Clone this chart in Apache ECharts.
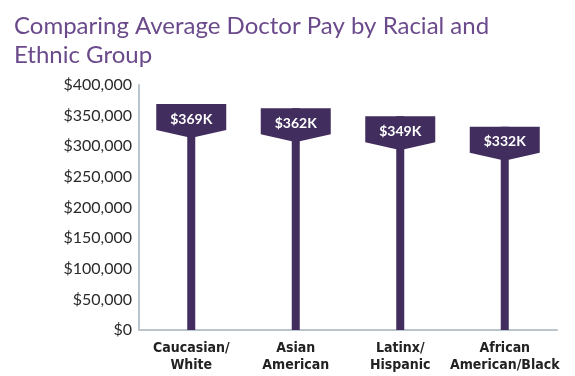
<!DOCTYPE html>
<html>
<head>
<meta charset="utf-8">
<script src="https://cdn.jsdelivr.net/npm/echarts@6/dist/echarts.min.js"></script>
<style>
    html, body { margin: 0; padding: 0; background: #fff; }
    #main { width: 575px; height: 376px; }
</style>
</head>
<body>
<div id="main"></div>
<script>
// data
var groups = ['Caucasian/\nWhite', 'Asian\nAmerican', 'Latinx/\nHispanic', 'African\nAmerican/Black'];
var avgPay = [369000, 362000, 349000, 332000];
var payLabels = ['$369K', '$362K', '$349K', '$332K'];

var barColor = '#412e5e';

var chart = echarts.init(document.getElementById('main'));

var option = {
    animation: false,
    title: {
        text: 'Comparing Average Doctor Pay by Racial and\nEthnic Group',
        left: 9,
        top: 7,
        textStyle: {
            color: '#6b4a8b',
            fontFamily: 'Lato',
            fontWeight: 'normal',
            fontSize: 24,
            lineHeight: 29
        }
    },
    grid: {
        left: 139,
        right: 18,
        top: 85,
        bottom: 46
    },
    xAxis: {
        type: 'category',
        data: groups,
        axisTick: { show: false },
        axisLine: {
            lineStyle: { color: '#b9c4cc', width: 2 }
        },
        axisLabel: {
            interval: 0,
            margin: 10,
            color: '#222',
            fontFamily: "'Liberation Sans Narrow', 'DejaVu Sans Condensed', 'Roboto Condensed', Roboto, sans-serif",
            fontWeight: 'bold',
            fontSize: 14,
            lineHeight: 17
        }
    },
    yAxis: {
        type: 'value',
        min: 0,
        max: 400000,
        interval: 50000,
        splitLine: { show: false },
        axisTick: { show: false },
        axisLine: {
            show: true,
            lineStyle: { color: '#b9c4cc', width: 2 }
        },
        axisLabel: {
            margin: 7,
            color: '#2a2a2a',
            fontFamily: 'Lato',
            fontSize: 16,
            formatter: function (value) {
                return '$' + value.toLocaleString('en-US');
            }
        }
    },
    series: [
        {
            type: 'bar',
            data: avgPay,
            barWidth: 8,
            itemStyle: { color: barColor }
        },
        {
            type: 'custom',
            data: avgPay,
            z: 5,
            renderItem: function (params, api) {
                var p = api.coord([api.value(0), api.value(1)]);
                var x = p[0], y = p[1];
                return {
                    type: 'group',
                    children: [
                        {
                            type: 'polygon',
                            shape: {
                                points: [
                                    [x - 35, y], [x + 35, y], [x + 35, y + 26],
                                    [x + 4, y + 33], [x - 4, y + 33], [x - 35, y + 26]
                                ]
                            },
                            style: { fill: barColor }
                        },
                        {
                            type: 'text',
                            x: x,
                            y: y + 15,
                            style: {
                                text: payLabels[params.dataIndex],
                                fill: '#fff',
                                font: 'bold 14px Lato',
                                align: 'center',
                                verticalAlign: 'middle'
                            }
                        }
                    ]
                };
            },
            encode: { x: 0, y: 1 }
        }
    ]
};

chart.setOption(option);
</script>
</body>
</html>
